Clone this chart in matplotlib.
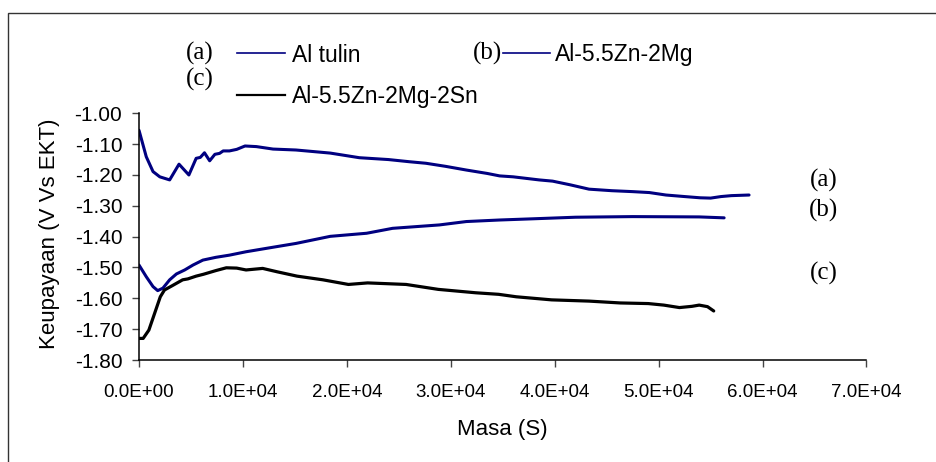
import numpy as np
import matplotlib
matplotlib.use('Agg')
import matplotlib.pyplot as plt
from matplotlib.lines import Line2D
from matplotlib.patches import Rectangle
from matplotlib.ticker import FuncFormatter, MultipleLocator

# potential vs time for the three samples
t_a = [0, 700, 1350, 2000, 2950, 3850, 4800, 5500, 5900, 6300, 6800, 7300, 7750, 8100,
       8700, 9400, 10200, 11300, 12900, 15100, 18400, 21200, 24000, 26000, 27600, 29500,
       31500, 33500, 34700, 36000, 38500, 39800, 41500, 43300, 45500, 47500, 49100, 50700,
       52500, 54000, 55000, 56000, 57000, 58700]
e_a = [-1.055, -1.141, -1.189, -1.206, -1.216, -1.165, -1.200, -1.146, -1.143, -1.128,
       -1.154, -1.133, -1.130, -1.122, -1.122, -1.117, -1.106, -1.108, -1.116, -1.119,
       -1.129, -1.144, -1.150, -1.157, -1.162, -1.172, -1.184, -1.195, -1.203, -1.206,
       -1.216, -1.220, -1.232, -1.246, -1.251, -1.254, -1.257, -1.265, -1.270, -1.274,
       -1.275, -1.270, -1.267, -1.265]

t_b = [0, 700, 1350, 1800, 2300, 2950, 3600, 4400, 5200, 6150, 7400, 8700, 10300, 12600,
       15100, 18400, 21900, 24400, 28900, 31500, 34700, 38000, 42000, 47500, 53900, 56300]
e_b = [-1.492, -1.530, -1.562, -1.575, -1.567, -1.540, -1.521, -1.508, -1.492, -1.476,
       -1.467, -1.460, -1.449, -1.436, -1.422, -1.399, -1.389, -1.373, -1.362, -1.351,
       -1.346, -1.342, -1.337, -1.335, -1.336, -1.339]

t_c = [0, 400, 950, 1500, 2050, 2450, 3200, 4200, 4700, 5500, 6200, 7400, 8400, 9400,
       10300, 11900, 13300, 15200, 17700, 20150, 22000, 25700, 28800, 32400, 34600, 36300,
       39700, 43300, 46300, 49000, 50500, 52000, 53200, 53900, 54700, 55300]
e_c = [-1.730, -1.730, -1.703, -1.649, -1.595, -1.573, -1.559, -1.540, -1.537, -1.528,
       -1.522, -1.510, -1.501, -1.502, -1.508, -1.503, -1.514, -1.528, -1.540, -1.555,
       -1.550, -1.555, -1.571, -1.582, -1.587, -1.595, -1.605, -1.609, -1.615, -1.617,
       -1.622, -1.630, -1.626, -1.622, -1.627, -1.641]

names = ['Al tulin', 'Al-5.5Zn-2Mg', 'Al-5.5Zn-2Mg-2Sn']
navy = '#000080'

plt.rcParams['font.family'] = 'Liberation Sans'
W, H = 937, 462
fig = plt.figure(figsize=(W / 100, H / 100), dpi=100)
ax = fig.add_axes([139 / W, 1 - 360 / H, 727.5 / W, 246.7 / H])

ax.plot(t_a, e_a, color=navy, lw=2.2, solid_joinstyle='round', solid_capstyle='round')
ax.plot(t_b, e_b, color=navy, lw=2.2, solid_joinstyle='round', solid_capstyle='round')
ax.plot(t_c, e_c, color='black', lw=2.3, solid_joinstyle='round', solid_capstyle='round')

ax.set_xlim(0, 70000)
ax.set_ylim(-1.80, -1.00)
ax.xaxis.set_major_locator(MultipleLocator(10000))
ax.yaxis.set_major_locator(MultipleLocator(0.1))
ax.xaxis.set_major_formatter(FuncFormatter(lambda v, p: '{:.1E}'.format(v)))
ax.yaxis.set_major_formatter(FuncFormatter(lambda v, p: '{:.2f}'.format(v)))
ax.tick_params(axis='both', length=5, width=1, color='#444444')
ax.tick_params(axis='x', pad=12, labelsize=13.5)
ax.tick_params(axis='y', pad=7, labelsize=15)
for s in ['top', 'right']:
    ax.spines[s].set_visible(False)
for s in ['left', 'bottom']:
    ax.spines[s].set_linewidth(1.1)

fig.text(502 / W, 1 - 430 / H, 'Masa (S)', ha='center', va='center', fontsize=16)
fig.text(50 / W, 1 - 234 / H, 'Keupayaan (V Vs EKT)', rotation=90,
         ha='center', va='center', fontsize=16)

# hand-placed legend
serif = 'Liberation Serif'
def fx(px):
    return px / W
def fy(py):
    return 1 - py / H

fig.text(fx(200), fy(53), '(a)', family=serif, fontsize=18, ha='center', va='center')
fig.lines.append(Line2D([fx(237), fx(285)], [fy(53), fy(53)], color=navy, lw=1.2,
                        transform=fig.transFigure))
fig.text(fx(292), fy(55), names[0], fontsize=16.5, ha='left', va='center')

fig.text(fx(488), fy(53), '(b)', family=serif, fontsize=18, ha='center', va='center')
fig.lines.append(Line2D([fx(503), fx(550)], [fy(53), fy(53)], color=navy, lw=1.2,
                        transform=fig.transFigure))
fig.text(fx(555), fy(55), names[1], fontsize=16.5, ha='left', va='center')

fig.text(fx(200), fy(79), '(c)', family=serif, fontsize=18, ha='center', va='center')
fig.lines.append(Line2D([fx(237), fx(285)], [fy(95), fy(95)], color='black', lw=1.6,
                        transform=fig.transFigure))
fig.text(fx(292), fy(97), names[2], fontsize=16.5, ha='left', va='center')

# curve markers on the right
for lab, py in [('(a)', 180), ('(b)', 210), ('(c)', 273)]:
    fig.text(fx(824), fy(py), lab, family=serif, fontsize=18, ha='center', va='center')

# outer frame
fig.patches.append(Rectangle((fx(8), -0.1), 1.2, fy(13) + 0.1, fill=False,
                             edgecolor='#333333', lw=1.0, transform=fig.transFigure))

fig.savefig('out.png', dpi=100)
